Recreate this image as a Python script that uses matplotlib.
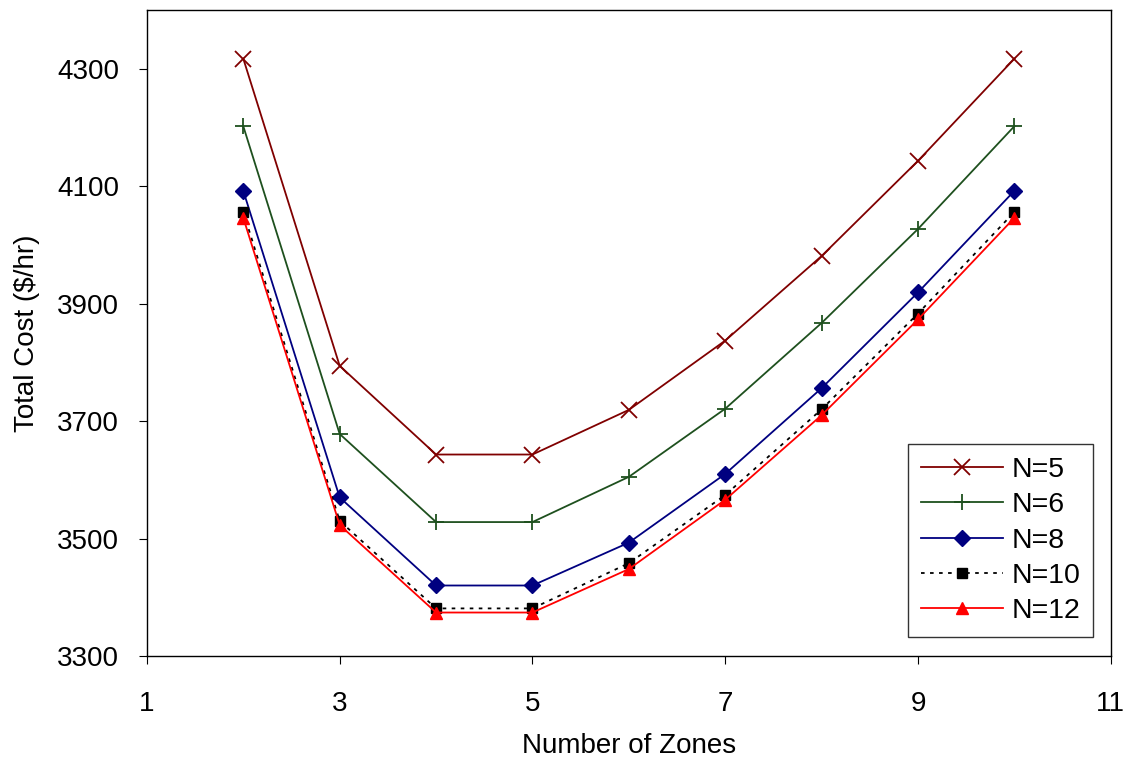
import matplotlib
matplotlib.use('Agg')
import matplotlib.pyplot as plt

plt.rcParams['font.family'] = ['Liberation Sans', 'DejaVu Sans']

zones = [2, 3, 4, 5, 6, 7, 8, 9, 10]
cost_n5 = [4317, 3794, 3643, 3643, 3719, 3837, 3981, 4143, 4317]
cost_n6 = [4202, 3678, 3528, 3528, 3605, 3721, 3867, 4027, 4202]
cost_n8 = [4092, 3570, 3420, 3420, 3493, 3610, 3756, 3919, 4092]
cost_n10 = [4056, 3530, 3381, 3381, 3458, 3574, 3720, 3883, 4056]
cost_n12 = [4046, 3523, 3374, 3374, 3448, 3566, 3710, 3873, 4046]
labels = ['N=5', 'N=6', 'N=8', 'N=10', 'N=12']

fig = plt.figure(figsize=(11.3, 7.61), dpi=100)
ax = fig.add_axes([0.130, 0.138, 0.853, 0.849])

ax.plot(zones, cost_n5, color='#800000', lw=1.3, marker='x', ms=12, mew=1.3, label=labels[0])
ax.plot(zones, cost_n6, color='#1e501e', lw=1.3, marker='+', ms=12, mew=1.3, label=labels[1])
ax.plot(zones, cost_n8, color='#000080', lw=1.3, marker='D', ms=8, label=labels[2])
ax.plot(zones, cost_n10, color='black', lw=1.3, ls=(0, (2, 3)), marker='s', ms=6.5, label=labels[3])
ax.plot(zones, cost_n12, color='#ff0000', lw=1.3, marker='^', ms=8, label=labels[4])

ax.set_xlim(1, 11)
ax.set_ylim(3300, 4400)
ax.set_xticks(range(1, 12, 2))
ax.set_yticks(range(3300, 4400, 200))
ax.tick_params(direction='out', length=6, labelsize=20)
ax.tick_params(axis='x', pad=19)
ax.tick_params(axis='y', pad=14)
for s in ax.spines.values():
    s.set_linewidth(1.0)

ax.set_xlabel('Number of Zones', fontsize=20, labelpad=12)
ax.set_ylabel('Total Cost ($/hr)', fontsize=20, labelpad=12)

leg = ax.legend(loc='lower right', bbox_to_anchor=(0.982, 0.029), borderaxespad=0,
                fontsize=20.5, frameon=True, fancybox=False, edgecolor='black',
                handlelength=2.9, labelspacing=0.33, borderpad=0.45, handletextpad=0.3)
leg.get_frame().set_linewidth(1.0)

fig.savefig('out.png', dpi=100)
